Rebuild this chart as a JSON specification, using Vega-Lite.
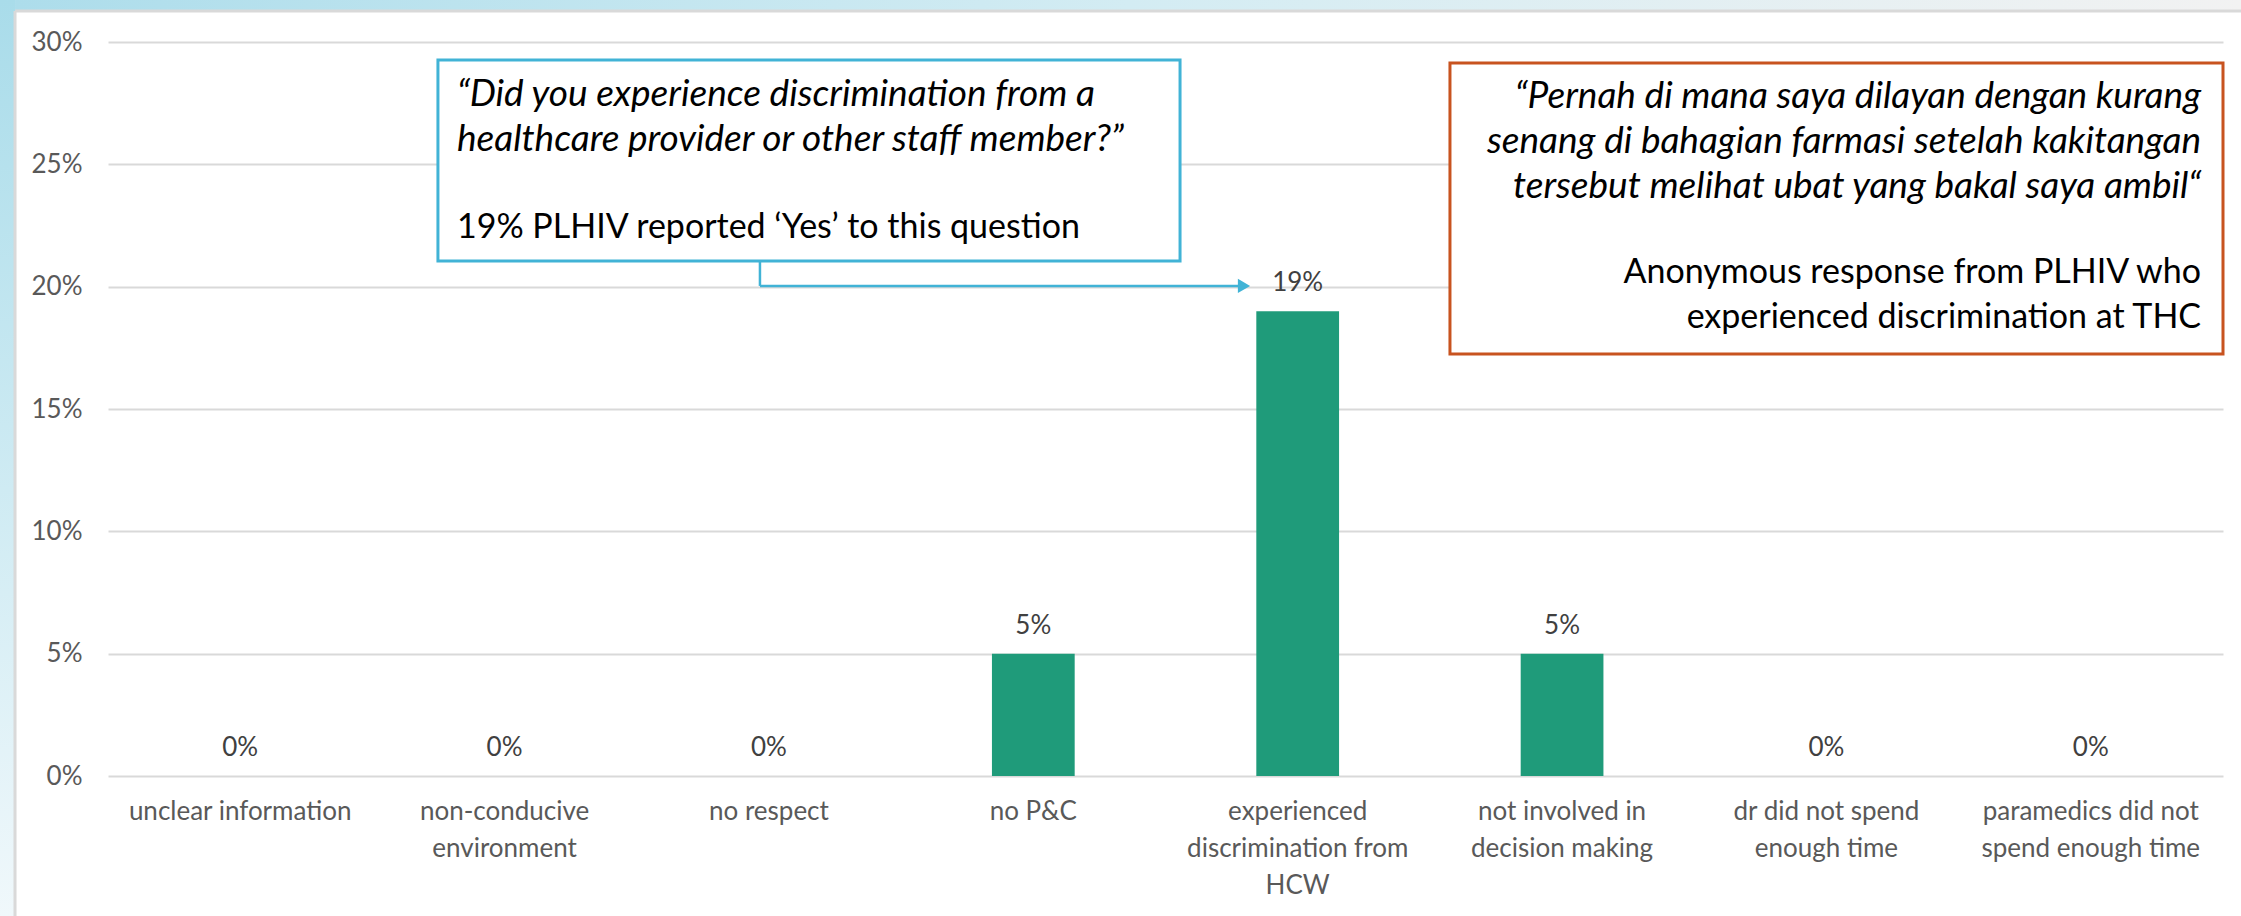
{
  "$schema": "https://vega.github.io/schema/vega-lite/v6.json",
  "width": 2115,
  "height": 734,
  "autosize": {"type": "none"},
  "padding": {"left": 108, "top": 42, "right": 18, "bottom": 140},
  "background": "white",
  "config": {
    "font": "Lato",
    "view": {"stroke": null},
    "axis": {"labelFont": "Lato", "labelColor": "#595959", "labelFontSize": 26, "labelLimit": 0}
  },
  "layer": [
    {
      "data": {
        "values": [
          {"category": "unclear information", "share": 0},
          {"category": "non-conducive environment", "share": 0},
          {"category": "no respect", "share": 0},
          {"category": "no P&C", "share": 0.05},
          {"category": "experienced discrimination from HCW", "share": 0.19},
          {"category": "not involved in decision making", "share": 0.05},
          {"category": "dr did not spend enough time", "share": 0},
          {"category": "paramedics did not spend enough time", "share": 0}
        ]
      },
      "encoding": {
        "x": {
          "field": "category",
          "type": "nominal",
          "sort": null,
          "scale": {"paddingInner": 0.687, "paddingOuter": 0.3435},
          "axis": {
            "title": null,
            "domain": false,
            "ticks": false,
            "labelAngle": 0,
            "labelPadding": 22,
            "labelLineHeight": 37,
            "labelExpr": "datum.value == 'non-conducive environment' ? ['non-conducive', 'environment'] : datum.value == 'experienced discrimination from HCW' ? ['experienced', 'discrimination from', 'HCW'] : datum.value == 'not involved in decision making' ? ['not involved in', 'decision making'] : datum.value == 'dr did not spend enough time' ? ['dr did not spend', 'enough time'] : datum.value == 'paramedics did not spend enough time' ? ['paramedics did not', 'spend enough time'] : datum.value"
          }
        },
        "y": {
          "field": "share",
          "type": "quantitative",
          "scale": {"domain": [0, 0.3], "nice": false},
          "axis": {
            "title": null,
            "domain": false,
            "ticks": false,
            "values": [0, 0.05, 0.1, 0.15, 0.2, 0.25, 0.3],
            "format": ".0%",
            "labelPadding": 26,
            "gridColor": "#D9D9D9",
            "gridWidth": 2
          }
        }
      },
      "layer": [
        {"mark": {"type": "bar", "color": "#1F9B7A"}},
        {
          "mark": {"type": "text", "dy": -28, "baseline": "middle", "fontSize": 26, "color": "#404040"},
          "encoding": {"text": {"field": "share", "type": "quantitative", "format": ".0%"}}
        }
      ]
    },
    {
      "data": {"values": [{"note": "annotations"}]},
      "layer": [
        {
          "mark": {
            "type": "rect",
            "color": {"gradient": "linear", "x1": 0, "y1": 0, "x2": 0, "y2": 1, "stops": [{"offset": 0, "color": "#A9DCEA"}, {"offset": 1, "color": "#F0F8FB"}]}
          },
          "encoding": {
            "x": {"datum": -0.4085, "type": "quantitative", "scale": {"domain": [0, 8], "nice": false, "zero": false}, "axis": null},
            "x2": {"datum": -0.3517},
            "y": {"datum": 0.3172, "type": "quantitative", "scale": {"domain": [0, 0.3], "nice": false}},
            "y2": {"datum": -0.0572}
          }
        },
        {
          "mark": {
            "type": "rect",
            "color": {"gradient": "linear", "x1": 0, "y1": 0, "x2": 1, "y2": 0, "stops": [{"offset": 0, "color": "#ADDDEB"}, {"offset": 0.5, "color": "#D3ECF3"}, {"offset": 1, "color": "#F2F2F2"}]}
          },
          "encoding": {
            "x": {"datum": -0.3517, "type": "quantitative", "scale": {"domain": [0, 8], "nice": false, "zero": false}, "axis": null},
            "x2": {"datum": 8.07},
            "y": {"datum": 0.3172, "type": "quantitative", "scale": {"domain": [0, 0.3], "nice": false}},
            "y2": {"datum": 0.3127}
          }
        },
        {
          "mark": {"type": "rule", "color": "#D9D9D9", "strokeWidth": 3},
          "encoding": {
            "x": {"datum": -0.3517, "type": "quantitative", "scale": {"domain": [0, 8], "nice": false, "zero": false}, "axis": null},
            "y": {"datum": 0.3127, "type": "quantitative", "scale": {"domain": [0, 0.3], "nice": false}},
            "y2": {"datum": -0.0572}
          }
        },
        {
          "mark": {"type": "rule", "color": "#D9D9D9", "strokeWidth": 3},
          "encoding": {
            "x": {"datum": -0.3517, "type": "quantitative", "scale": {"domain": [0, 8], "nice": false, "zero": false}, "axis": null},
            "x2": {"datum": 8.07},
            "y": {"datum": 0.3127, "type": "quantitative", "scale": {"domain": [0, 0.3], "nice": false}}
          }
        },
        {
          "mark": {"type": "rect", "fill": "white", "stroke": "#41B3D6", "strokeWidth": 3},
          "encoding": {
            "x": {"datum": 1.248, "type": "quantitative", "scale": {"domain": [0, 8], "nice": false, "zero": false}, "axis": null},
            "x2": {"datum": 4.055},
            "y": {"datum": 0.2926, "type": "quantitative", "scale": {"domain": [0, 0.3], "nice": false}},
            "y2": {"datum": 0.2105}
          }
        },
        {
          "mark": {"type": "rect", "fill": "white", "stroke": "#C8531F", "strokeWidth": 3},
          "encoding": {
            "x": {"datum": 5.076, "type": "quantitative", "scale": {"domain": [0, 8], "nice": false, "zero": false}, "axis": null},
            "x2": {"datum": 8.0},
            "y": {"datum": 0.2914, "type": "quantitative", "scale": {"domain": [0, 0.3], "nice": false}},
            "y2": {"datum": 0.1725}
          }
        },
        {
          "mark": {"type": "rule", "color": "#41B3D6", "strokeWidth": 2.5},
          "encoding": {
            "x": {"datum": 2.466, "type": "quantitative", "scale": {"domain": [0, 8], "nice": false, "zero": false}, "axis": null},
            "y": {"datum": 0.2105, "type": "quantitative", "scale": {"domain": [0, 0.3], "nice": false}},
            "y2": {"datum": 0.2003}
          }
        },
        {
          "mark": {"type": "rule", "color": "#41B3D6", "strokeWidth": 2.5},
          "encoding": {
            "x": {"datum": 2.466, "type": "quantitative", "scale": {"domain": [0, 8], "nice": false, "zero": false}, "axis": null},
            "x2": {"datum": 4.28},
            "y": {"datum": 0.2003, "type": "quantitative", "scale": {"domain": [0, 0.3], "nice": false}}
          }
        },
        {
          "mark": {"type": "point", "shape": "triangle-right", "filled": true, "color": "#41B3D6", "size": 200, "opacity": 1},
          "encoding": {
            "x": {"datum": 4.297, "type": "quantitative", "scale": {"domain": [0, 8], "nice": false, "zero": false}, "axis": null},
            "y": {"datum": 0.2003, "type": "quantitative", "scale": {"domain": [0, 0.3], "nice": false}}
          }
        },
        {
          "mark": {
            "type": "text",
            "align": "left",
            "baseline": "middle",
            "fontSize": 37,
            "fontStyle": "italic",
            "lineHeight": 45,
            "color": "#000000",
            "text": ["“Did you experience discrimination from a", "healthcare provider or other staff member?”"]
          },
          "encoding": {
            "x": {"datum": 1.32, "type": "quantitative", "scale": {"domain": [0, 8], "nice": false, "zero": false}, "axis": null},
            "y": {"datum": 0.2783, "type": "quantitative", "scale": {"domain": [0, 0.3], "nice": false}}
          }
        },
        {
          "mark": {
            "type": "text",
            "align": "left",
            "baseline": "middle",
            "fontSize": 34,
            "color": "#000000",
            "text": "19% PLHIV reported ‘Yes’ to this question"
          },
          "encoding": {
            "x": {"datum": 1.32, "type": "quantitative", "scale": {"domain": [0, 8], "nice": false, "zero": false}, "axis": null},
            "y": {"datum": 0.224, "type": "quantitative", "scale": {"domain": [0, 0.3], "nice": false}}
          }
        },
        {
          "mark": {
            "type": "text",
            "align": "right",
            "baseline": "middle",
            "fontSize": 37,
            "fontStyle": "italic",
            "lineHeight": 45,
            "color": "#000000",
            "text": ["“Pernah di mana saya dilayan dengan kurang", "senang di bahagian farmasi setelah kakitangan", "tersebut melihat ubat yang bakal saya ambil“"]
          },
          "encoding": {
            "x": {"datum": 7.917, "type": "quantitative", "scale": {"domain": [0, 8], "nice": false, "zero": false}, "axis": null},
            "y": {"datum": 0.2775, "type": "quantitative", "scale": {"domain": [0, 0.3], "nice": false}}
          }
        },
        {
          "mark": {
            "type": "text",
            "align": "right",
            "baseline": "middle",
            "fontSize": 34,
            "lineHeight": 45,
            "color": "#000000",
            "text": ["Anonymous response from PLHIV who", "experienced discrimination at THC"]
          },
          "encoding": {
            "x": {"datum": 7.917, "type": "quantitative", "scale": {"domain": [0, 8], "nice": false, "zero": false}, "axis": null},
            "y": {"datum": 0.2056, "type": "quantitative", "scale": {"domain": [0, 0.3], "nice": false}}
          }
        }
      ]
    }
  ],
  "resolve": {"scale": {"x": "independent"}}
}
